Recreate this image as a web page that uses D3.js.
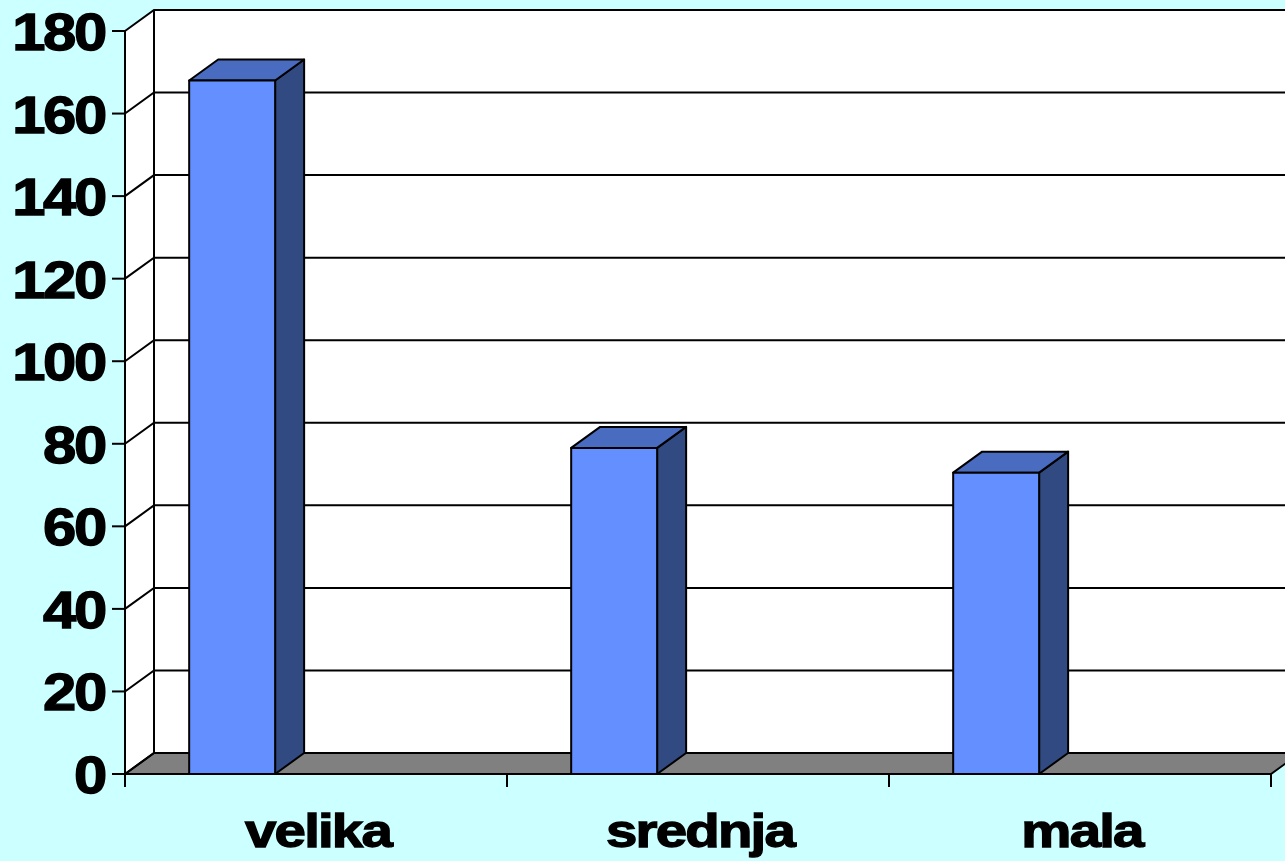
<!DOCTYPE html>
<html>
<head>
<meta charset="utf-8">
<script src="https://cdn.jsdelivr.net/npm/d3@7"></script>
<style>
  html, body { margin: 0; padding: 0; background: #ccffff; }
  svg { display: block; }
  text { font-family: "Liberation Sans", Arial, sans-serif; font-weight: bold; fill: #000; stroke: #000; stroke-width: 1.3; }
</style>
</head>
<body>
<svg width="1285" height="861"></svg>
<script>
    const categories = ['velika', 'srednja', 'mala']
    const values = [168, 79, 73]
    const yTicks = [0, 20, 40, 60, 80, 100, 120, 140, 160, 180]

    // 3d depth offset of the back wall
    const dx = 29, dy = -21
    const plotLeft = 125, plotRight = 1271, plotBottom = 774, plotTop = 31

    const xb = d3.scaleBand().domain(categories).range([plotLeft, plotRight])
    const ys = d3.scaleLinear().domain([0, 180]).range([plotBottom, plotTop])

    const svg = d3.select('svg')
    const line = d3.line()

    // side wall and back wall
    svg.append('path')
      .attr('d', line([[plotLeft, ys(0)], [plotLeft + dx, ys(0) + dy], [plotLeft + dx, ys(180) + dy], [plotLeft, ys(180)]]) + 'Z')
      .attr('fill', '#fff')
    svg.append('rect')
      .attr('x', plotLeft + dx).attr('y', ys(180) + dy)
      .attr('width', 1285 - plotLeft - dx).attr('height', ys(0) - ys(180))
      .attr('fill', '#fff')

    // floor
    svg.append('path')
      .attr('d', line([[plotLeft, ys(0)], [plotLeft + dx, ys(0) + dy], [plotRight + dx, ys(0) + dy], [plotRight, ys(0)]]) + 'Z')
      .attr('fill', '#808080').attr('stroke', '#000').attr('stroke-width', 2)

    // grid lines on back and side wall
    const grid = svg.append('g').attr('stroke', '#000').attr('stroke-width', 2).attr('fill', 'none')
    grid.selectAll('path.grid').data(yTicks).enter().append('path')
      .attr('class', 'grid')
      .attr('d', function(d) {
        return line([[plotLeft, ys(d)], [plotLeft + dx, ys(d) + dy], [1290, ys(d) + dy]])
      })
    grid.append('path')
      .attr('d', line([[plotLeft + dx, ys(0) + dy], [plotLeft + dx, ys(180) + dy]]))

    // bars
    const bars = svg.append('g').attr('stroke', '#000').attr('stroke-width', 2).attr('stroke-linejoin', 'round')
    categories.forEach(function(c, i) {
      const x0 = xb(c) + xb.bandwidth() * 0.168
      const w = xb.bandwidth() * 0.225
      const y0 = ys(values[i])
      const y1 = ys(0)
      bars.append('path')
        .attr('d', line([[x0 + w, y0], [x0 + w + dx, y0 + dy], [x0 + w + dx, y1 + dy], [x0 + w, y1]]) + 'Z')
        .attr('fill', '#314a82')
      bars.append('path')
        .attr('d', line([[x0, y0], [x0 + dx, y0 + dy], [x0 + w + dx, y0 + dy], [x0 + w, y0]]) + 'Z')
        .attr('fill', '#4a6cc0')
      bars.append('rect')
        .attr('x', x0).attr('y', y0).attr('width', w).attr('height', y1 - y0)
        .attr('fill', '#6490ff')
    })

    // y axis
    const yaxis = svg.append('g').attr('stroke', '#000').attr('stroke-width', 2)
    yaxis.append('path').attr('d', line([[plotLeft, ys(180)], [plotLeft, ys(0)]]))
    yaxis.selectAll('path.tick').data(yTicks).enter().append('path')
      .attr('class', 'tick')
      .attr('d', function(d) { return line([[plotLeft - 13, ys(d)], [plotLeft, ys(d)]]) })
    svg.selectAll('text.ylab').data(yTicks).enter().append('text')
      .attr('class', 'ylab')
      .attr('transform', function(d) { return 'translate(105,' + (ys(d) + 19) + ') scale(1.15,1)' })
      .attr('text-anchor', 'end')
      .attr('font-size', 52)
      .attr('letter-spacing', -2)
      .text(function(d) { return d })

    // x axis
    const xaxis = svg.append('g').attr('stroke', '#000').attr('stroke-width', 2)
    xaxis.append('path').attr('d', line([[plotLeft, ys(0)], [plotRight, ys(0)]]))
    xaxis.selectAll('path.tick').data(categories.concat(['end'])).enter().append('path')
      .attr('class', 'tick')
      .attr('d', function(d) {
        const x = d === 'end' ? plotRight : xb(d)
        return line([[x, ys(0)], [x, ys(0) + 13]])
      })
    svg.selectAll('text.xlab').data(categories).enter().append('text')
      .attr('class', 'xlab')
      .attr('transform', function(d) { return 'translate(' + (xb(d) + xb.bandwidth() / 2 + 2) + ',847) scale(1.2,1)' })
      .attr('text-anchor', 'middle')
      .attr('font-size', 47)
      .attr('letter-spacing', -1.5)
      .text(function(d) { return d })
</script>
</body>
</html>
